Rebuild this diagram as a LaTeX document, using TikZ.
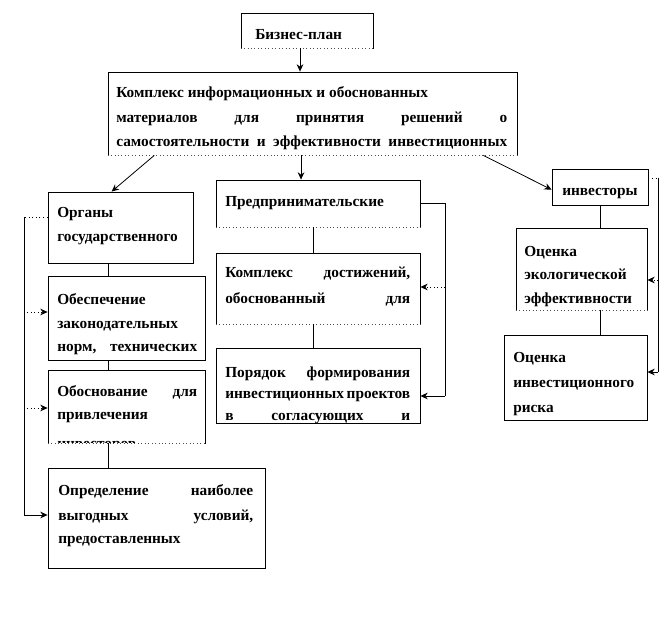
\documentclass[tikz,border=0pt]{standalone}
\usepackage{fontspec}
\setmainfont{Liberation Serif}
\usetikzlibrary{fit,arrows.meta}
\newlength\pxu \setlength\pxu{0.75pt}
\begin{document}
\begin{tikzpicture}[x=0.75pt,y=-0.75pt,
  bx/.style={draw, line width=0.6pt, inner sep=0pt, fill=white},
  tl/.style={anchor=base west, inner sep=0pt, font=\bfseries\fontsize{11.5}{14}\selectfont},
  ln/.style={line width=0.6pt},
  ar/.style={line width=0.6pt, -{Stealth[length=5.5pt,width=5pt]}},
  dt/.style={dotted, line width=0.7pt},
  dbot/.style={white, line width=1.2pt},
  ]
\useasboundingbox (0,0) rectangle (661,624);

% boxes
\node[bx, fit={(241,13)(373,48)}] (bp) {};
\node[bx, fit={(108,72)(517,155)}] (kx) {};
\node[bx, fit={(48,192)(193,263)}] (org) {};
\node[bx, fit={(48,276)(205,360)}] (obsp) {};
\node[bx, fit={(48,370)(205,443)}] (obsn) {};
\node[bx, fit={(48,468)(265,568)}] (opr) {};
\node[bx, fit={(216,180)(420,227)}] (pp) {};
\node[bx, fit={(216,253)(420,324)}] (kd) {};
\node[bx, fit={(216,348)(420,423)}] (por) {};
\node[bx, fit={(552,169)(648,205)}] (inv) {};
\node[bx, fit={(516,228)(647,310)}] (oe) {};
\node[bx, fit={(504,335)(647,420)}] (orr) {};

% texts
\node[tl] (bpt) at (255,40) {Бизнес-план};
\node[tl] (kx1) at (116,98) {Комплекс информационных и обоснованных};
\node[tl] (kx2) at (116,123) {\hbox to 391\pxu{материалов\hfill для\hfill принятия\hfill решений\hfill о}};
\node[tl] (kx3) at (116,147) {\hbox to 391\pxu{самостоятельности\hfill и\hfill эффективности\hfill инвестиционных}};

\node[tl] (org1) at (57,218) {Органы};
\node[tl] (org2) at (57,242) {государственного};

\node[tl] (obsp1) at (57,305) {Обеспечение};
\node[tl] (obsp2) at (57,328) {законодательных};
\node[tl] (obsp3) at (57,351) {\hbox to 140\pxu{норм,\hfill технических}};

\node[tl] (obsn1) at (57,396) {\hbox to 140\pxu{Обоснование\hfill для}};
\node[tl] (obsn2) at (57,419) {привлечения};
\begin{scope}
\clip (obsn.south west) rectangle (obsn.north east);
\node[tl] (obsn3) at (57,448) {инвесторов};
\end{scope}

\node[tl] (opr1) at (58,495) {\hbox to 195\pxu{Определение\hfill наиболее}};
\node[tl] (opr2) at (58,520) {\hbox to 195\pxu{выгодных\hfill условий,}};
\node[tl] (opr3) at (58,543) {предоставленных};

\node[tl] (ppt) at (225,207) {Предпринимательские};
\node[tl] (kd1) at (225,277) {\hbox to 185\pxu{Комплекс\hfill достижений,}};
\node[tl] (kd2) at (225,303) {\hbox to 185\pxu{обоснованный\hfill для}};
\node[tl] (por1) at (225,377) {\hbox to 185\pxu{Порядок\hfill формирования}};
\node[tl] (por2) at (225,398) {\hbox to 185\pxu{инвестиционных\hfill проектов}};
\node[tl] (por3) at (225,420) {\hbox to 185\pxu{в\hfill согласующих\hfill и}};

\node[tl] (invt) at (562,196) {инвесторы};
\node[tl] (oe1) at (524,257) {Оценка};
\node[tl] (oe2) at (524,280) {экологической};
\node[tl] (oe3) at (524,303) {эффективности};
\node[tl] (or1) at (513,362) {Оценка};
\node[tl] (or2) at (513,387) {инвестиционного};
\node[tl] (or3) at (513,412) {риска};

% dotted bottoms
\foreach \b in {bp,kx,pp,kd,oe,obsn}{
  \draw[dbot] (\b.south west) -- (\b.south east);
  \draw[dotted, line width=0.6pt, black!70] (\b.south west) -- (\b.south east);
}

% main connectors
\draw[ar] ([xshift=-5.25pt]bp.south) -- ([xshift=-5.25pt]bp.south |- kx.north);
\draw[ar] ([xshift=35pt]kx.south west) -- ([xshift=48pt]org.north west);
\draw[ar] ([xshift=-8.6pt]kx.south) -- ([xshift=-8.6pt]kx.south |- pp.north);
\draw[ar] ([xshift=-25.5pt]kx.south east) -- ([yshift=-2pt]inv.west);

\draw[ln] ([xshift=-9.4pt]org.south) -- ([xshift=-9.4pt]org.south |- obsp.north);
\draw[ln] ([xshift=-13.9pt]obsp.south) -- ([xshift=-13.9pt]obsp.south |- obsn.north);
\draw[ln] ([xshift=-13.9pt]obsn.south) -- ([xshift=-13.9pt]obsn.south |- opr.north);
\draw[ln] ([xshift=-3.75pt]pp.south) -- ([xshift=-3.75pt]pp.south |- kd.north);
\draw[ln] ([xshift=-3.75pt]kd.south) -- ([xshift=-3.75pt]kd.south |- por.north);
\draw[ln] (inv.south) -- (inv.south |- oe.north);
\draw[ln] ([xshift=13.9pt]oe.south) -- ([xshift=13.9pt]oe.south |- orr.north);

% left loop
\coordinate (L1) at (24,217);
\coordinate (L2) at (24,515);
\coordinate (L3) at (24,312);
\coordinate (L4) at (24,408);
\draw[dt] (L1 -| org.west) -- (L1);
\draw[ln] (L1) -- (L2);
\draw[ar] (L2) -- (L2 -| opr.west);
\draw[dt, ar] (L3) -- (L3 -| obsp.west);
\draw[dt, ar] (L4) -- (L4 -| obsn.west);

% middle loop
\coordinate (M1) at (445,203);
\coordinate (M2) at (445,396);
\coordinate (M3) at (445,287);
\draw[ln] (M1 -| pp.east) -- (M1) -- (M2);
\draw[ar] (M2) -- (M2 -| por.east);
\draw[dt, ar] (M3) -- (M3 -| kd.east);

% right loop
\coordinate (R1) at (658,178);
\coordinate (R2) at (658,372);
\coordinate (R3) at (658,280);
\draw[dt] (R1 -| inv.east) -- (R1);
\draw[ln] (R1) -- (R2);
\draw[ar] (R2) -- (R2 -| orr.east);
\draw[dt, ar] (R3) -- (R3 -| oe.east);
\end{tikzpicture}
\end{document}
